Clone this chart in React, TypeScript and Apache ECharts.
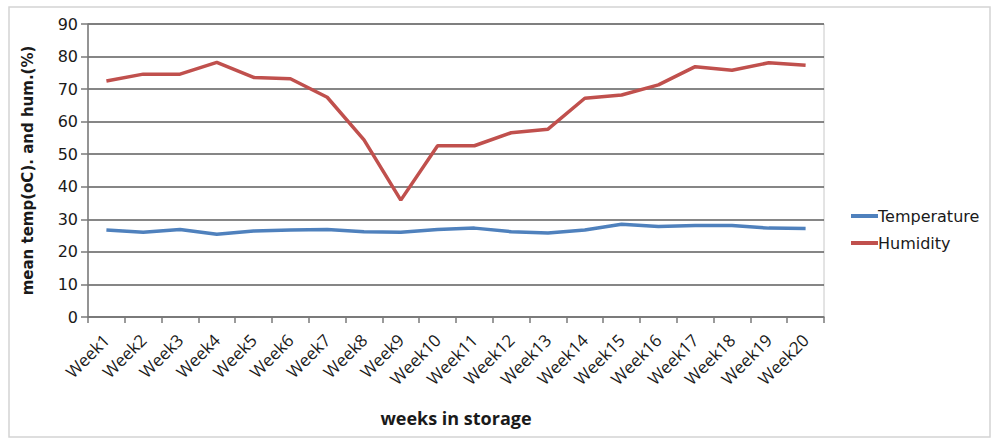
import React, { useEffect, useRef } from "react";
import * as echarts from "echarts";

const weeks = [
  "Week1", "Week2", "Week3", "Week4", "Week5", "Week6", "Week7", "Week8", "Week9", "Week10",
  "Week11", "Week12", "Week13", "Week14", "Week15", "Week16", "Week17", "Week18", "Week19", "Week20",
];
const temperature = [26.7, 26.0, 26.9, 25.4, 26.4, 26.7, 26.9, 26.2, 26.0, 26.9, 27.3, 26.2, 25.8, 26.7, 28.5, 27.8, 28.1, 28.1, 27.3, 27.2];
const humidity = [72.5, 74.6, 74.6, 78.2, 73.6, 73.2, 67.5, 54.4, 35.9, 52.6, 52.6, 56.6, 57.7, 67.2, 68.2, 71.3, 76.9, 75.8, 78.1, 77.3];
const seriesNames = ["Temperature", "Humidity"];

export default function App() {
  const ref = useRef<HTMLDivElement>(null);
  useEffect(() => {
    document.body.style.margin = "0";
    const chart = echarts.init(ref.current!, null, { renderer: "svg" });
    chart.setOption({
      animation: false,
      backgroundColor: "#ffffff",
      graphic: [
        {
          type: "rect",
          shape: { x: 9, y: 7, width: 981, height: 430 },
          style: { fill: "none", stroke: "#d4d4d4", lineWidth: 1.5 },
          silent: true,
        },
      ],
      grid: {
        left: 88,
        right: 170,
        top: 24,
        bottom: 127,
        show: true,
        borderColor: "#c8c8c8",
        borderWidth: 1,
      },
      legend: {
        orient: "vertical",
        left: 846,
        top: 203,
        itemWidth: 27,
        itemHeight: 4,
        itemGap: 11,
        icon: "rect",
        textStyle: { fontFamily: "DejaVu Sans", fontSize: 16, color: "#1a1a1a", padding: [0, 0, 0, -5] },
        data: seriesNames,
      },
      xAxis: {
        type: "category",
        data: weeks,
        boundaryGap: true,
        name: "weeks in storage",
        nameLocation: "middle",
        nameGap: 92,
        nameTextStyle: { fontFamily: "Open Sans", fontWeight: "bold", fontSize: 18, color: "#1a1a1a" },
        axisLine: { lineStyle: { color: "#7a7a7a", width: 1.5 } },
        axisTick: { show: true, length: 6, lineStyle: { color: "#7a7a7a", width: 1.5 } },
        axisLabel: {
          rotate: 45,
          interval: 0,
          margin: 20,
          fontFamily: "Open Sans",
          fontSize: 17,
          color: "#1a1a1a",
        },
      },
      yAxis: {
        type: "value",
        min: 0,
        max: 90,
        interval: 10,
        name: "mean temp(oC). and hum.(%)",
        nameLocation: "middle",
        nameGap: 53,
        nameTextStyle: { fontFamily: "DejaVu Sans", fontWeight: "bold", fontSize: 15, color: "#1a1a1a" },
        axisLine: { show: true, lineStyle: { color: "#7a7a7a", width: 1.5 } },
        axisTick: { show: true, length: 7, lineStyle: { color: "#7a7a7a", width: 1.5 } },
        axisLabel: { margin: 10, fontFamily: "DejaVu Sans", fontSize: 16, color: "#1a1a1a" },
        splitLine: { show: true, lineStyle: { color: "#5e5e5e", width: 1.6 } },
      },
      series: [
        {
          name: seriesNames[0],
          type: "line",
          data: temperature,
          symbol: "none",
          color: "#4f81bd",
          lineStyle: { width: 3.5, color: "#4f81bd" },
        },
        {
          name: seriesNames[1],
          type: "line",
          data: humidity,
          symbol: "none",
          color: "#c0504d",
          lineStyle: { width: 3.5, color: "#c0504d" },
        },
      ],
    });
    return () => chart.dispose();
  }, []);
  return <div ref={ref} style={{ width: 994, height: 444 }} />;
}
